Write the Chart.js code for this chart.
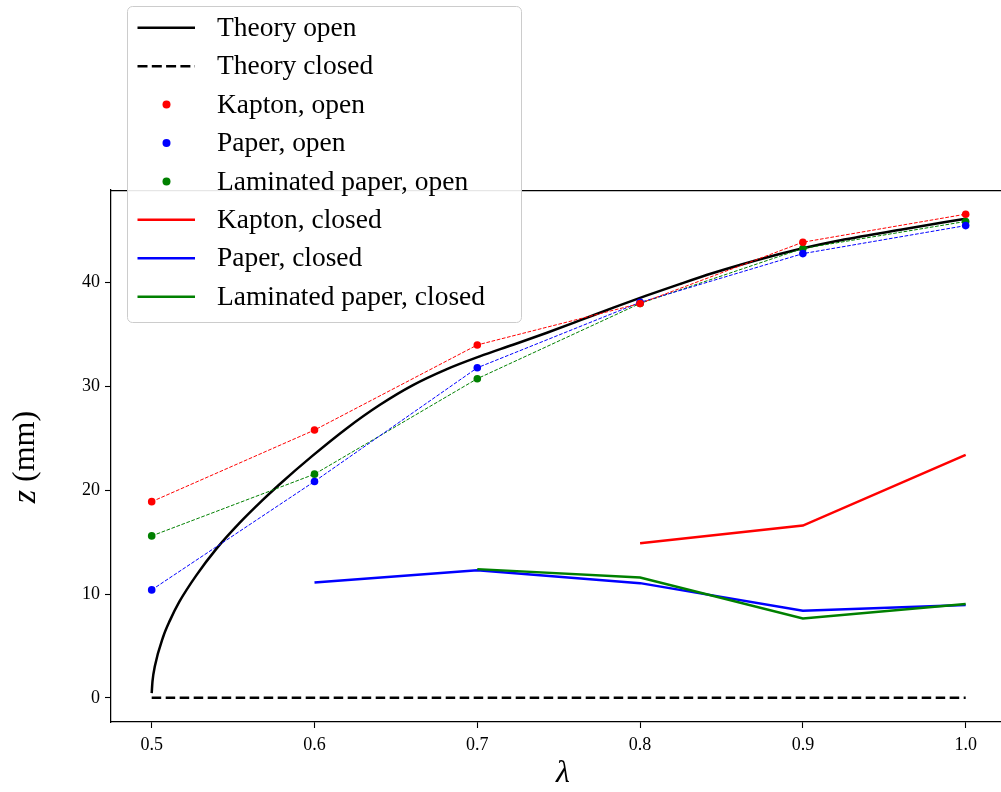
<!DOCTYPE html>
<html><head><meta charset="utf-8">
<script src="https://cdn.jsdelivr.net/npm/chart.js@4.4.0/dist/chart.umd.min.js"></script>
<style>html,body{margin:0;padding:0;background:#fff;overflow:hidden}#wrap{width:1001px;height:792px}</style>
</head><body><div id="wrap"><canvas id="c" width="1001" height="792"></canvas></div>
<script>
// ---- data ----
const lambdaOpen = [0.5, 0.6, 0.7, 0.8, 0.9, 1.0];
const kaptonOpen = [18.9, 25.8, 34.0, 38.0, 43.9, 46.6];
const paperOpen = [10.4, 20.85, 31.8, 38.1, 42.8, 45.5];
const laminatedOpen = [15.6, 21.55, 30.75, 38.0, 43.3, 45.9];

const kaptonClosedLambda = [0.8, 0.9, 1.0];
const kaptonClosed = [14.9, 16.6, 23.4];
const paperClosedLambda = [0.6, 0.7, 0.8, 0.9, 1.0];
const paperClosed = [11.1, 12.3, 11.05, 8.4, 8.95];
const laminatedClosedLambda = [0.7, 0.8, 0.9, 1.0];
const laminatedClosed = [12.4, 11.6, 7.65, 9.05];

const theoryLambda = [0.5, 0.5005, 0.502, 0.507, 0.511, 0.517, 0.5275, 0.5397, 0.554, 0.5684, 0.5786, 0.5987, 0.6193, 0.64, 0.6605, 0.681, 0.7015, 0.722, 0.7428, 0.7634, 0.784, 0.8038, 0.8243, 0.8448, 0.8612, 0.88, 0.9, 0.92, 0.96, 1.0];
const theoryOpen = [0.45, 1.6, 3.09, 5.86, 7.39, 9.26, 11.82, 14.35, 16.85, 19.09, 20.58, 23.31, 25.91, 28.21, 30.13, 31.65, 32.90, 34.02, 35.18, 36.39, 37.62, 38.75, 39.86, 40.93, 41.71, 42.53, 43.32, 44.00, 45.10, 46.17];
const theoryClosedLambda = [0.5, 1.0];
const theoryClosed = [0, 0];

const xTicks = [0.5, 0.6, 0.7, 0.8, 0.9, 1.0];
const yTicks = [0, 10, 20, 30, 40];

const legendLabels = ['Theory open', 'Theory closed', 'Kapton, open', 'Paper, open', 'Laminated paper, open', 'Kapton, closed', 'Paper, closed', 'Laminated paper, closed'];
const xTitle = 'λ';
const yTitleVar = 'z';
const yTitleUnit = ' (mm)';

const RED = '#ff0000', BLUE = '#0000ff', GREEN = '#008000', BLACK = '#000000';
const SERIF = '"Liberation Serif", "DejaVu Serif", serif';

function pts(xs, ys) { return xs.map((x, i) => ({ x: x, y: ys[i] })); }

const openStyle = (c) => ({ borderColor: c, backgroundColor: c, borderWidth: 1, borderDash: [3.7, 1.6],
  pointRadius: 3.8, pointBackgroundColor: c, pointBorderWidth: 0, pointHoverRadius: 3.8, showLine: true, tension: 0 });
const closedStyle = (c) => ({ borderColor: c, backgroundColor: c, borderWidth: 2.5, pointRadius: 0, showLine: true, tension: 0 });

const datasets = [
  Object.assign({ label: legendLabels[2], data: pts(lambdaOpen, kaptonOpen), order: 5 }, openStyle(RED)),
  Object.assign({ label: legendLabels[3], data: pts(lambdaOpen, paperOpen), order: 5 }, openStyle(BLUE)),
  Object.assign({ label: legendLabels[4], data: pts(lambdaOpen, laminatedOpen), order: 5 }, openStyle(GREEN)),
  { label: legendLabels[0], data: pts(theoryLambda, theoryOpen), borderColor: BLACK, backgroundColor: BLACK, borderWidth: 2.5,
    pointRadius: 0, showLine: true, cubicInterpolationMode: 'monotone', order: 6 },
  { label: legendLabels[1], data: pts(theoryClosedLambda, theoryClosed), borderColor: BLACK, backgroundColor: BLACK, borderWidth: 2.5,
    borderDash: [9.5, 4.5], pointRadius: 0, showLine: true, order: 6 },
  Object.assign({ label: legendLabels[5], data: pts(kaptonClosedLambda, kaptonClosed), order: 4 }, closedStyle(RED)),
  Object.assign({ label: legendLabels[6], data: pts(paperClosedLambda, paperClosed), order: 4 }, closedStyle(BLUE)),
  Object.assign({ label: legendLabels[7], data: pts(laminatedClosedLambda, laminatedClosed), order: 3 }, closedStyle(GREEN)),
];

const legendStyles = [
  { kind: 'line', color: BLACK, dash: [] },
  { kind: 'line', color: BLACK, dash: [10, 4.3] },
  { kind: 'dot', color: RED },
  { kind: 'dot', color: BLUE },
  { kind: 'dot', color: GREEN },
  { kind: 'line', color: RED, dash: [] },
  { kind: 'line', color: BLUE, dash: [] },
  { kind: 'line', color: GREEN, dash: [] },
];

const decorPlugin = {
  id: 'decor',
  afterDraw(chart) {
    const ctx = chart.ctx, a = chart.chartArea;
    ctx.save();
    // top spine
    ctx.strokeStyle = '#000'; ctx.lineWidth = 1.25; ctx.setLineDash([]);
    ctx.beginPath(); ctx.moveTo(a.left, a.top + 0.5); ctx.lineTo(a.right, a.top + 0.5); ctx.stroke();

    // axis titles
    ctx.fillStyle = '#000';
    ctx.textBaseline = 'middle';
    ctx.textAlign = 'center';
    ctx.font = 'italic 32px ' + SERIF;
    ctx.fillText(xTitle, 563, 774);

    ctx.save();
    ctx.translate(26, 457);
    ctx.rotate(-Math.PI / 2);
    ctx.font = 'italic 34px ' + SERIF;
    const w1 = ctx.measureText(yTitleVar).width;
    ctx.font = '32px ' + SERIF;
    const w2 = ctx.measureText(yTitleUnit).width;
    const start = -(w1 + w2) / 2;
    ctx.textAlign = 'left';
    ctx.font = 'italic 34px ' + SERIF;
    ctx.fillText(yTitleVar, start, 0);
    ctx.font = '32px ' + SERIF;
    ctx.fillText(yTitleUnit, start + w1, 0);
    ctx.restore();

    // legend
    const bx = 127.5, by = 6.5, bw = 394, bh = 316;
    ctx.beginPath();
    ctx.roundRect(bx, by, bw, bh, 5);
    ctx.fillStyle = 'rgba(255,255,255,0.9)';
    ctx.fill();
    ctx.strokeStyle = '#cccccc'; ctx.lineWidth = 1;
    ctx.stroke();

    ctx.font = '100px ' + SERIF;
    const target = 268;
    const size = 100 * target / ctx.measureText(legendLabels[7]).width;
    ctx.font = size.toFixed(2) + 'px ' + SERIF;
    ctx.textAlign = 'left';
    ctx.textBaseline = 'middle';
    for (let i = 0; i < legendLabels.length; i++) {
      const y = 27.7 + i * 38.43;
      const st = legendStyles[i];
      if (st.kind === 'line') {
        ctx.strokeStyle = st.color; ctx.lineWidth = 2.5; ctx.setLineDash(st.dash);
        ctx.beginPath(); ctx.moveTo(137.5, y); ctx.lineTo(195, y); ctx.stroke();
        ctx.setLineDash([]);
      } else {
        ctx.fillStyle = st.color;
        ctx.beginPath(); ctx.arc(166.5, y, 4, 0, Math.PI * 2); ctx.fill();
      }
      ctx.fillStyle = '#000';
      ctx.fillText(legendLabels[i], 217, y + 1);
    }
    ctx.restore();
  }
};

const tickFont = { family: SERIF, size: 18 };
function zeroPad(s) { s.paddingLeft = 0; s.paddingRight = 0; s.paddingTop = 0; s.paddingBottom = 0; }

new Chart(document.getElementById('c'), {
  type: 'scatter',
  data: { datasets: datasets },
  options: {
    responsive: false,
    animation: false,
    devicePixelRatio: 1,
    layout: { autoPadding: false, padding: { top: 190, right: 0, left: 0, bottom: 0 } },
    plugins: { legend: { display: false }, tooltip: { enabled: false } },
    scales: {
      x: {
        type: 'linear', min: 0.475, max: 1.0217,
        afterBuildTicks: (s) => { s.ticks = xTicks.map(v => ({ value: v })); },
        afterFit: (s) => { s.height = 70; zeroPad(s); },
        ticks: { font: tickFont, color: '#000', padding: 6, callback: (v) => Number(v).toFixed(1), maxRotation: 0, autoSkip: false },
        grid: { drawOnChartArea: false, drawTicks: true, tickLength: 6, tickColor: '#000', tickWidth: 1.1 },
        border: { display: true, color: '#000', width: 1.25 }
      },
      y: {
        type: 'linear', min: -2.33, max: 48.93,
        afterBuildTicks: (s) => { s.ticks = yTicks.map(v => ({ value: v })); },
        afterFit: (s) => { s.width = 111; zeroPad(s); },
        ticks: { font: tickFont, color: '#000', padding: 5, callback: (v) => String(v), autoSkip: false },
        grid: { drawOnChartArea: false, drawTicks: true, tickLength: 6, tickColor: '#000', tickWidth: 1.1 },
        border: { display: true, color: '#000', width: 1.25 }
      }
    }
  },
  plugins: [decorPlugin]
});
</script>
</body></html>
